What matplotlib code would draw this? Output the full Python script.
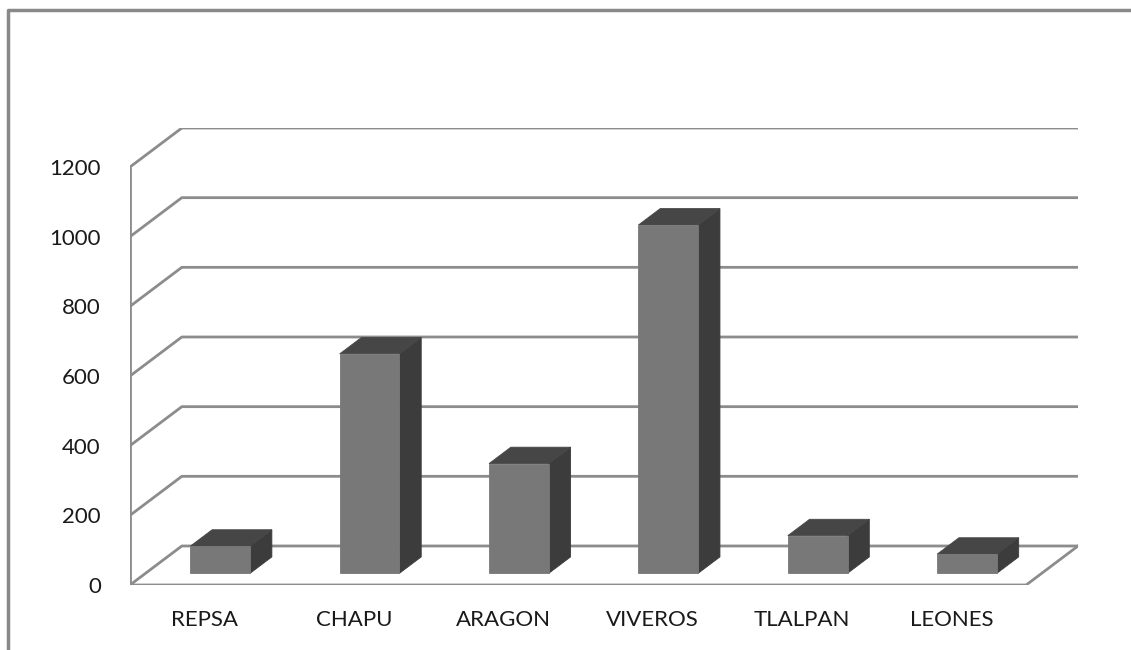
import numpy as np
import matplotlib.pyplot as plt

# Data
categories = ['REPSA', 'CHAPU', 'ARAGON', 'VIVEROS', 'TLALPAN', 'LEONES']
values = [78, 630, 315, 1000, 108, 55]
yticks = [0, 200, 400, 600, 800, 1000, 1200]

# 3D look parameters (oblique projection, in data units)
DX = 0.347      # depth shift in category units
DY = 112        # depth shift in value units
d0, d1 = 0.30, 0.72   # bar depth span (fraction of floor depth)
bw = 0.4        # bar width
grid_col = '#8c8c8c'
front_col = '#787878'
top_col = '#464646'
side_col = '#3c3c3c'

plt.rcParams['font.family'] = ['Lato', 'DejaVu Sans']

fig = plt.figure(figsize=(11.31, 6.5), dpi=100)
ax = fig.add_axes([130 / 1131, 65 / 650, 948 / 1131, 457 / 650])
n = len(categories)
ax.set_xlim(0, n + DX)
ax.set_ylim(0, yticks[-1] + DY)

# walls: gridlines on back wall + left side wall
ax.plot([0, 0], [0, yticks[-1]], color=grid_col, lw=2, solid_capstyle='butt')
for v in yticks:
    ax.plot([0, DX, n + DX], [v, v + DY, v + DY], color=grid_col, lw=2)
# floor front edge
ax.plot([0, n, n + DX], [0, 0, DY], color=grid_col, lw=2)

# bars
bd = d1 - d0
for i, v in enumerate(values):
    x0 = i + 0.5 - bw / 2 + d0 * DX
    x1 = x0 + bw
    b = d0 * DY
    t = b + v
    ax.fill([x1, x1 + bd * DX, x1 + bd * DX, x1], [b, b + bd * DY, t + bd * DY, t],
            fc=side_col, ec=side_col, lw=0.6, zorder=3)
    ax.fill([x0, x1, x1 + bd * DX, x0 + bd * DX], [t, t, t + bd * DY, t + bd * DY],
            fc=top_col, ec=top_col, lw=0.6, zorder=3)
    ax.fill([x0, x1, x1, x0], [b, b, t, t], fc=front_col, ec=front_col, lw=0.6, zorder=4)

ax.set_yticks(yticks)
ax.set_yticklabels([str(v) for v in yticks])
ax.set_xticks(np.arange(n) + 0.5)
ax.set_xticklabels(categories)
ax.tick_params(axis='y', length=0, pad=21, labelsize=16, labelcolor='#1a1a1a')
ax.tick_params(axis='x', length=0, pad=18, labelsize=16, labelcolor='#1a1a1a')
for s in ax.spines.values():
    s.set_visible(False)
ax.patch.set_alpha(0)

# chart border (top and left visible)
fig.add_artist(plt.Line2D([8 / 1131, 8 / 1131, 1.0], [0, 640 / 650, 640 / 650],
                          transform=fig.transFigure, color='#888888', lw=2.5))

fig.savefig('out.png', dpi=100)
